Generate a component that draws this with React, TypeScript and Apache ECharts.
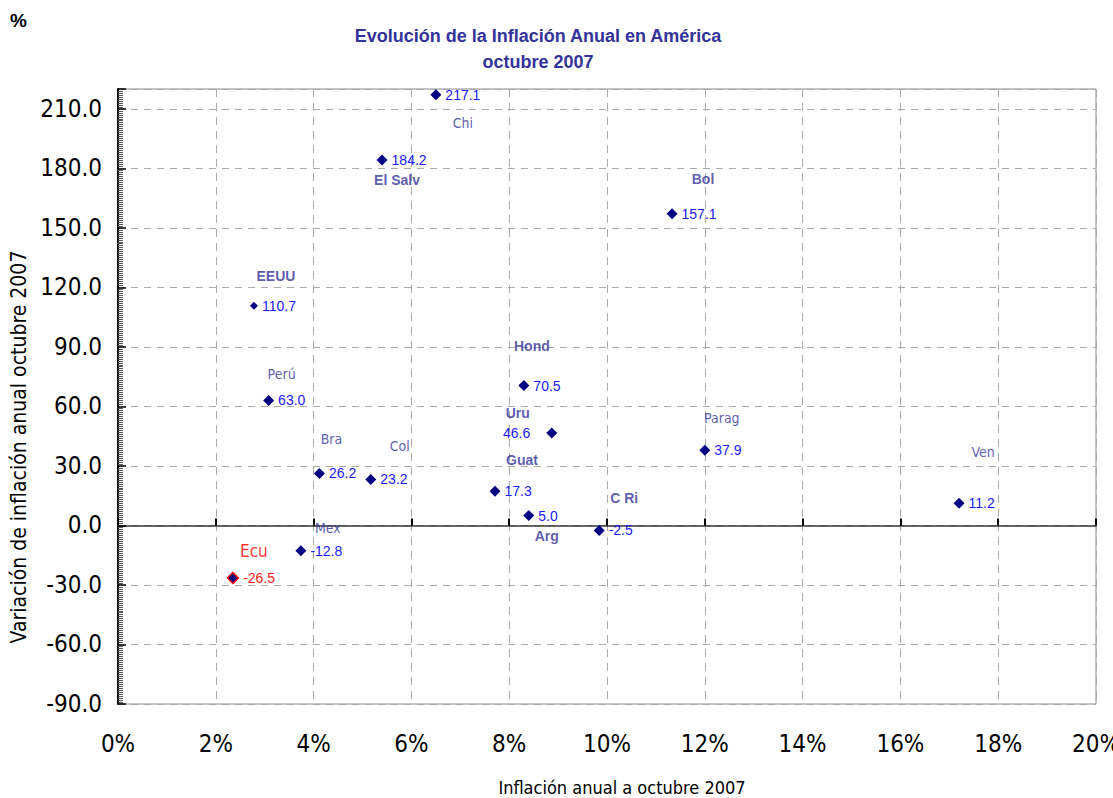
import React, { useEffect, useRef } from "react";
import * as echarts from "echarts";

// ---- data ----
const countries = ["Chi", "El Salv", "Bol", "EEUU", "Hond", "Perú", "Uru", "Parag", "Bra", "Col", "Guat", "Ven", "Arg", "C Ri", "Mex", "Ecu"];
const inflation = [6.5, 5.4, 11.33, 2.78, 8.3, 3.08, 8.87, 12.0, 4.12, 5.17, 7.71, 17.2, 8.4, 9.84, 3.74, 2.35];
const variation = [217.1, 184.2, 157.1, 110.7, 70.5, 63.0, 46.6, 37.9, 26.2, 23.2, 17.3, 11.2, 5.0, -2.5, -12.8, -26.5];
const xTicks = [0, 2, 4, 6, 8, 10, 12, 14, 16, 18, 20];
const yTicks = [-90, -60, -30, 0, 30, 60, 90, 120, 150, 180, 210];

// ---- layout / styles (not data) ----
const nameOffsets: Record<string, [number, number]> = {
  "Chi": [27, 28], "El Salv": [15, 20], "Bol": [31, -35], "EEUU": [22, -30],
  "Hond": [8, -40], "Perú": [13, -26], "Uru": [-34, -20], "Parag": [17, -32],
  "Bra": [12, -34], "Col": [29, -33], "Guat": [27, -31], "Ven": [24, -51],
  "Arg": [18, 20], "C Ri": [25, -32], "Mex": [27, -23], "Ecu": [21, -27],
};
const boldNames = ["El Salv", "Bol", "EEUU", "Hond", "Uru", "Guat", "Arg", "C Ri"];
const NARROW = "'Liberation Sans Narrow', 'Arial Narrow', 'DejaVu Sans Condensed', sans-serif";
const ARIAL = "'Liberation Sans', Arial, sans-serif";
const NAVY = "#000080";
const LABEL_BLUE = "#1a1aff";
const NAME_BLUE = "#333399";

export default function App() {
  const ref = useRef<HTMLDivElement>(null);
  useEffect(() => {
    if (!ref.current) return;
    const chart = echarts.init(ref.current, null, { renderer: "svg" });

    const pointData = countries.map((c, i) => {
      const isEcu = c === "Ecu";
      const isUru = c === "Uru";
      return {
        name: c,
        value: [inflation[i], variation[i]],
        symbolSize: c === "EEUU" ? 8 : 11,
        itemStyle: isEcu
          ? { color: NAVY, borderColor: "#ff0000", borderWidth: 1.5, opacity: 1 }
          : { color: NAVY, opacity: 1 },
        label: {
          show: true,
          position: isUru ? "left" : "right",
          distance: isUru ? 16 : 4,
          color: isEcu ? "#ff1a1a" : LABEL_BLUE,
          fontSize: 14,
          fontFamily: ARIAL,
          formatter: () => variation[i].toFixed(1),
        },
      };
    });

    const nameData = countries.map((c, i) => {
      const isEcu = c === "Ecu";
      const bold = boldNames.includes(c);
      return {
        name: c,
        value: [inflation[i], variation[i]],
        label: {
          show: true,
          position: "inside",
          offset: nameOffsets[c],
          align: "center",
          verticalAlign: "middle",
          color: isEcu ? "#ff0000" : NAME_BLUE,
          fontWeight: bold ? "bold" : "normal",
          fontSize: isEcu ? 17 : 14,
          fontFamily: bold ? ARIAL : NARROW,
          formatter: () => c,
        },
      };
    });

    chart.setOption({
      animation: false,
      backgroundColor: "#ffffff",
      grid: {
        left: 118, top: 89, right: 17, bottom: 94,
        outerBoundsMode: "none",
        containLabel: false,
        show: true, borderColor: "#888888", borderWidth: 1, backgroundColor: "transparent",
      },
      graphic: [
        { type: "text", x: 10, y: 11, style: { text: "%", font: `bold 19px ${ARIAL}`, fill: "#000" } },
        { type: "text", x: 538, y: 36, style: { text: "Evolución de la Inflación Anual en América", font: `bold 18px ${ARIAL}`, fill: NAME_BLUE, align: "center", verticalAlign: "middle" } },
        { type: "text", x: 538, y: 62, style: { text: "octubre 2007", font: `bold 18px ${ARIAL}`, fill: NAME_BLUE, align: "center", verticalAlign: "middle" } },
        { type: "text", x: 19, y: 447, rotation: Math.PI / 2, style: { text: "Variación de inflación anual octubre 2007", font: `21px ${NARROW}`, fill: "#000", align: "center", verticalAlign: "middle" } },
        { type: "text", x: 622, y: 787, style: { text: "Inflación anual a octubre 2007", font: `18px ${NARROW}`, fill: "#000", align: "center", verticalAlign: "middle" } },
      ],
      xAxis: [
        {
          type: "value",
          position: "bottom",
          min: xTicks[0],
          max: xTicks[xTicks.length - 1],
          interval: xTicks[1] - xTicks[0],
          axisLine: { show: false, onZero: false },
          axisTick: { show: false },
          axisLabel: { formatter: (v: number) => `${v}%`, fontSize: 24, fontFamily: NARROW, color: "#000", margin: 28 },
          splitLine: { show: true, lineStyle: { type: [8, 6], color: "#aaaaaa", width: 1 } },
        },
        {
          type: "value",
          position: "bottom",
          min: xTicks[0],
          max: xTicks[xTicks.length - 1],
          interval: xTicks[1] - xTicks[0],
          axisLine: { show: true, onZero: true, lineStyle: { color: "#333", width: 1.5 } },
          axisTick: { show: true, inside: true, length: 7, lineStyle: { color: "#000", width: 2 } },
          axisLabel: { show: false },
          splitLine: { show: false },
        },
      ],
      yAxis: {
        type: "value",
        min: yTicks[0],
        max: 220,
        interval: yTicks[1] - yTicks[0],
        axisLine: { show: true, onZero: false, lineStyle: { color: "#000", width: 2 } },
        axisTick: { show: true, inside: true, length: 8, lineStyle: { color: "#000", width: 1.5 } },
        minorTick: { show: true, splitNumber: 30, length: 5, lineStyle: { color: "#555", width: 1 } },
        axisLabel: {
          formatter: (v: number) => (yTicks.includes(v) ? v.toFixed(1) : ""),
          showMaxLabel: false,
          fontSize: 24, fontFamily: NARROW, color: "#000", margin: 16,
        },
        splitLine: { show: true, lineStyle: { type: [7, 6], color: "#aaaaaa", width: 1 } },
      },
      series: [
        {
          type: "scatter",
          symbol: "diamond",
          data: pointData,
          z: 3,
        },
        {
          type: "scatter",
          symbol: "circle",
          symbolSize: 1,
          itemStyle: { color: "rgba(0,0,0,0)" },
          data: nameData,
          z: 4,
        },
      ],
    });
    return () => chart.dispose();
  }, []);
  return <div ref={ref} style={{ position: "fixed", left: 0, top: 0, width: 1113, height: 798 }} />;
}
